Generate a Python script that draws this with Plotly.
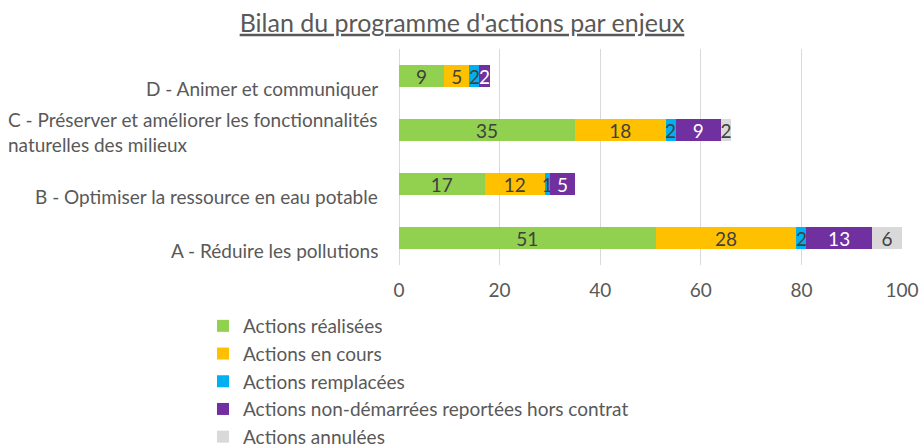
import plotly.graph_objects as go

# Enjeux du programme (de bas en haut)
enjeux = ["A", "B", "C", "D"]
libelles = [
    "A - Réduire les pollutions",
    "B - Optimiser la ressource en eau potable",
    "C - Préserver et améliorer les fonctionnalités<br>naturelles des milieux",
    "D - Animer et communiquer",
]

# Nombre d'actions par statut et par enjeu
realisees = [51, 17, 35, 9]
en_cours = [28, 12, 18, 5]
remplacees = [2, 1, 2, 2]
non_demarrees = [13, 5, 9, 2]
annulees = [6, 0, 2, 0]

series = [
    ("Actions réalisées", realisees, "#92D050", "#404040"),
    ("Actions en cours", en_cours, "#FFC000", "#404040"),
    ("Actions remplacées", remplacees, "#00B0F0", "#404040"),
    ("Actions non-démarrées reportées hors contrat", non_demarrees, "#7030A0", "#FFFFFF"),
    ("Actions annulées", annulees, "#D9D9D9", "#404040"),
]

W, H = 921, 446
L, R, T, B = 399, 19, 49, 181
FONT = "Lato, Carlito, Calibri, sans-serif"
GREY = "#595959"
FS = 19

fig = go.Figure()
for i, (nom, vals, couleur, couleur_txt) in enumerate(series):
    fig.add_trace(go.Bar(
        name=nom,
        y=enjeux,
        x=vals,
        orientation="h",
        marker=dict(color=couleur, line=dict(width=0)),
        text=[str(v) if v else "" for v in vals],
        textposition="inside",
        insidetextanchor="middle",
        textangle=0,
        constraintext="none",
        textfont=dict(family=FONT, size=FS, color=couleur_txt),
        legendgroup=f"g{i}",
        hoverinfo="x+name",
        cliponaxis=False,
    ))

# Libellés des enjeux, à gauche de la zone de tracé
for cat, lib in zip(enjeux, libelles):
    multi = "<br>" in lib
    fig.add_annotation(
        x=0, xref="paper", y=cat, yref="y",
        text=lib, showarrow=False,
        xanchor="right", yanchor="middle", align="left",
        xshift=-19, yshift=-2 if multi else -12,
        font=dict(family=FONT, size=FS, color=GREY),
    )

plot_w = W - L - R
plot_h = H - T - B

fig.update_layout(
    width=W, height=H,
    margin=dict(l=L, r=R, t=T, b=B, pad=0, autoexpand=False),
    paper_bgcolor="white", plot_bgcolor="white",
    barmode="stack", bargap=0.59,
    font=dict(family=FONT, size=FS, color=GREY),
    title=dict(
        text="<u>Bilan du programme d'actions par enjeux</u>",
        x=462 / W, xanchor="center", xref="container",
        y=1 - 23 / H, yanchor="middle", yref="container",
        font=dict(family=FONT, size=25, color=GREY),
    ),
    xaxis=dict(
        range=[0, 100], dtick=20, tick0=0,
        showgrid=True, gridcolor="#D9D9D9", gridwidth=1,
        zeroline=True, zerolinecolor="#D9D9D9", zerolinewidth=1,
        showline=False, ticks="",
        ticklabelstandoff=12,
        automargin=False,
        tickfont=dict(family=FONT, size=FS, color=GREY),
        fixedrange=True,
    ),
    yaxis=dict(
        categoryorder="array", categoryarray=enjeux,
        showticklabels=False, showgrid=False, zeroline=False,
        showline=False, ticks="", fixedrange=True, automargin=False,
    ),
    legend=dict(
        orientation="v",
        x=(203 - L) / plot_w, xanchor="left",
        y=(H - B - 307) / plot_h, yanchor="top",
        traceorder="normal",
        tracegroupgap=0,
        font=dict(family=FONT, size=FS, color=GREY),
        bgcolor="rgba(0,0,0,0)",
        itemclick=False, itemdoubleclick=False,
    ),
    showlegend=True,
)

fig.write_html("out.html")
